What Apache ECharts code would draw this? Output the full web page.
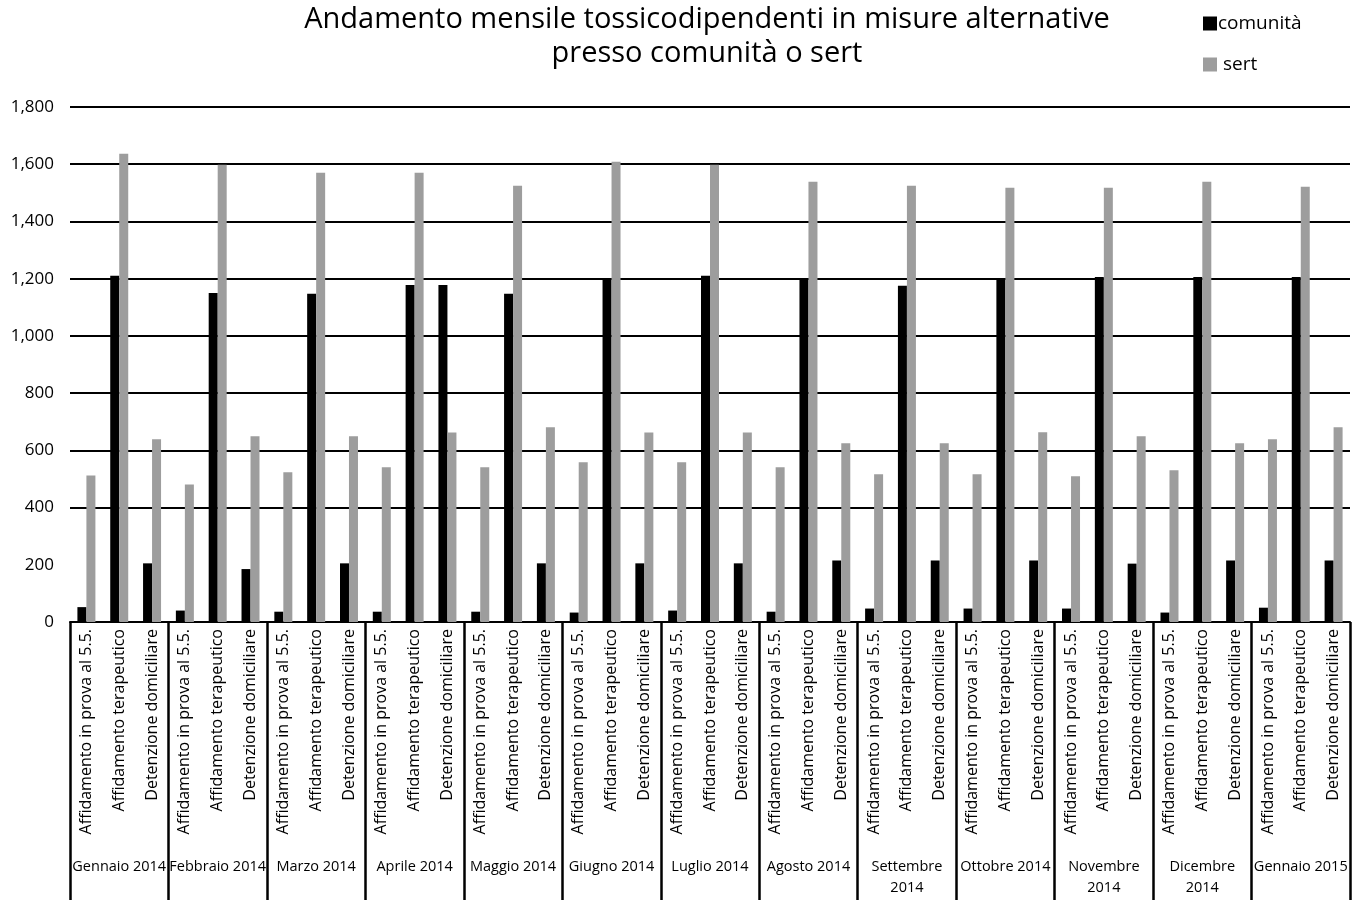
<!DOCTYPE html>
<html>
<head>
<meta charset="utf-8">
<script src="https://cdn.jsdelivr.net/npm/echarts@6/dist/echarts.min.js"></script>
<style>
  html, body { margin: 0; padding: 0; background: #fff; }
  #chart { width: 1357px; height: 900px; }
</style>
</head>
<body>
<div id="chart"></div>
<script>
// Months (outer axis level) and measures (inner axis level)
const months = [
  'Gennaio 2014', 'Febbraio 2014', 'Marzo 2014', 'Aprile 2014', 'Maggio 2014',
  'Giugno 2014', 'Luglio 2014', 'Agosto 2014', 'Settembre\n2014', 'Ottobre 2014',
  'Novembre\n2014', 'Dicembre\n2014', 'Gennaio 2015'
];
const measures = [
  'Affidamento in prova al 5.5.',
  'Affidamento terapeutico',
  'Detenzione domiciliare'
];

// Values per month, in the order of the measures above
const comunita = [
  52, 1210, 205,
  40, 1150, 185,
  36, 1147, 205,
  36, 1178, 1178,
  36, 1147, 205,
  33, 1197, 205,
  40, 1210, 205,
  36, 1197, 215,
  47, 1175, 215,
  47, 1197, 215,
  47, 1206, 204,
  33, 1206, 215,
  50, 1206, 215
];
const sert = [
  512, 1637, 639,
  481, 1598, 649,
  523, 1570, 649,
  541, 1570, 662,
  541, 1525, 681,
  558, 1609, 662,
  558, 1598, 662,
  541, 1539, 625,
  516, 1525, 625,
  516, 1518, 663,
  509, 1518, 649,
  530, 1539, 625,
  639, 1521, 681
];

const yTicks = { min: 0, max: 1800, interval: 200 };

// Inner category list: one entry per month × measure
const categories = [];
months.forEach(() => measures.forEach(m => categories.push(m)));

const FONT = '"Open Sans", "DejaVu Sans", sans-serif';

const chart = echarts.init(document.getElementById('chart'), null, { renderer: 'canvas' });

chart.setOption({
  animation: false,
  backgroundColor: '#ffffff',
  textStyle: { fontFamily: FONT, color: '#000' },
  title: {
    text: 'Andamento mensile tossicodipendenti in misure alternative\npresso comunità o sert',
    left: 702,
    top: -2,
    textAlign: 'center',
    textStyle: {
      fontFamily: FONT,
      fontSize: 29,
      fontWeight: 'normal',
      color: '#000',
      lineHeight: 34
    }
  },
  legend: {
    orient: 'vertical',
    left: 1198,
    top: 9,
    itemWidth: 14,
    itemHeight: 14,
    itemGap: 22,
    icon: 'rect',
    data: ['comunità', 'sert'],
    formatter: n => (n === 'sert' ? ' ' + n : n),
    textStyle: { fontFamily: FONT, fontSize: 19, color: '#000', padding: [0, 0, 0, -4] }
  },
  grid: { left: 70, right: 7, top: 107, bottom: 278, containLabel: false },
  xAxis: [
    {
      type: 'category',
      data: categories,
      position: 'bottom',
      axisLine: { show: true, lineStyle: { color: '#000', width: 2 } },
      axisTick: { show: false },
      axisLabel: {
        interval: 0,
        rotate: 90,
        margin: 7,
        fontFamily: FONT,
        fontSize: 16,
        color: '#000'
      },
      splitLine: { show: false }
    },
    {
      type: 'category',
      data: months,
      position: 'bottom',
      axisLine: { show: false },
      axisTick: { show: true, length: 278, interval: 0, lineStyle: { color: '#000', width: 2.5 } },
      axisLabel: {
        interval: 0,
        margin: 234,
        verticalAlign: 'top',
        fontFamily: FONT,
        fontSize: 14.5,
        lineHeight: 21,
        color: '#000'
      },
      splitLine: { show: false }
    }
  ],
  yAxis: {
    type: 'value',
    min: yTicks.min,
    max: yTicks.max,
    interval: yTicks.interval,
    axisLine: { show: false },
    axisTick: { show: false },
    axisLabel: {
      margin: 16,
      fontFamily: FONT,
      fontSize: 17,
      color: '#000',
      formatter: v => v.toLocaleString('en-US')
    },
    splitLine: {
      show: true,
      // the 200 line is left out
      lineStyle: {
        color: ['#000', 'rgba(0,0,0,0)', '#000', '#000', '#000', '#000', '#000', '#000', '#000', '#000'],
        width: 2
      }
    }
  },
  series: [
    {
      name: 'comunità',
      type: 'bar',
      xAxisIndex: 0,
      data: comunita,
      barWidth: 9,
      barGap: '0%',
      itemStyle: { color: '#000000' }
    },
    {
      name: 'sert',
      type: 'bar',
      xAxisIndex: 0,
      data: sert,
      barWidth: 9,
      barGap: '0%',
      itemStyle: { color: '#9d9d9d' }
    }
  ]
});
</script>
</body>
</html>
